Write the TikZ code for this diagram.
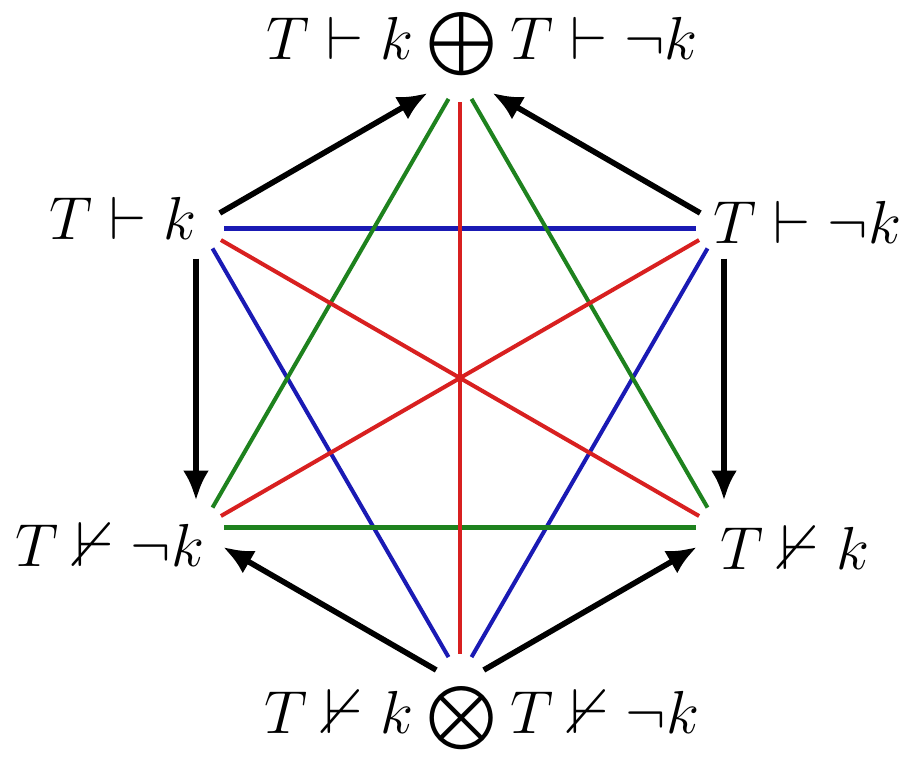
\documentclass[tikz,border=0pt]{standalone}
\usepackage{amssymb}
\usepackage{xcolor}
\usetikzlibrary{arrows.meta,calc}
\definecolor{lineblue}{HTML}{1A1AB4}
\definecolor{linegreen}{HTML}{1E821E}
\definecolor{linered}{HTML}{D82020}

\begin{document}
\begin{tikzpicture}[font=\fontsize{18}{20}\selectfont, >=Latex,
    side/.style={line width=1.15pt, shorten <=0.23cm, shorten >=0.23cm},
    arr/.style={->, line width=1.6pt, -{Latex[length=0.3cm, width=0.26cm]}},
    lbl/.style={inner sep=0pt}]
  \useasboundingbox (0,0) rectangle (8.99,-7.56);
  % hexagon corners
  \coordinate (top) at (4.60,-0.79);
  \coordinate (ul) at (2.01,-2.285);
  \coordinate (ur) at (7.19,-2.285);
  \coordinate (ll) at (2.01,-5.275);
  \coordinate (lr) at (7.19,-5.275);
  \coordinate (bot) at (4.60,-6.77);
  % labels
  \node[lbl, anchor=base] (ltop) at (4.82,-0.59) {$T \vdash k \mathbin{\bigoplus} T \vdash \neg k$};
  \node[lbl, anchor=east] (lul) at (1.97,-2.18) {$T \vdash k$};
  \node[lbl, anchor=west] (lur) at (7.13,-2.22) {$T \vdash \neg k$};
  \node[lbl, anchor=east] (lll) at (2.05,-5.45) {$T \nvdash \neg k$};
  \node[lbl, anchor=west] (llr) at (7.20,-5.48) {$T \nvdash k$};
  \node[lbl] (lbot) at (4.82,-7.18) {$T \nvdash k \mathbin{\bigotimes} T \nvdash \neg k$};
  % blue
  \draw[side, lineblue] (ul) -- (ur);
  \draw[side, lineblue] (ul) -- (bot);
  \draw[side, lineblue] (ur) -- (bot);
  % green
  \draw[side, linegreen] (top) -- (ll);
  \draw[side, linegreen] (top) -- (lr);
  \draw[side, linegreen] (ll) -- (lr);
  % red
  \draw[side, linered] (top) -- (bot);
  \draw[side, linered] (ul) -- (lr);
  \draw[side, linered] (ur) -- (ll);
  % arrows
  \draw[arr, shorten <=0.24cm, shorten >=0.35cm] ([shift={(-0.02,0.035)}]ul) -- ([shift={(-0.02,0.035)}]top);
  \draw[arr, shorten <=0.24cm, shorten >=0.35cm] ([shift={(0.02,0.035)}]ur) -- ([shift={(0.02,0.035)}]top);
  \draw[arr, shorten <=0.30cm, shorten >=0.27cm] ([xshift=-0.05cm]ul) -- ([xshift=-0.05cm]ll);
  \draw[arr, shorten <=0.30cm, shorten >=0.27cm] ([xshift=0.05cm]ur) -- ([xshift=0.05cm]lr);
  \draw[arr, shorten <=0.24cm, shorten >=0.29cm] ([shift={(-0.03,-0.05)}]bot) -- ([shift={(-0.03,-0.05)}]ll);
  \draw[arr, shorten <=0.24cm, shorten >=0.29cm] ([shift={(0.03,-0.05)}]bot) -- ([shift={(0.03,-0.05)}]lr);
\end{tikzpicture}
\end{document}
